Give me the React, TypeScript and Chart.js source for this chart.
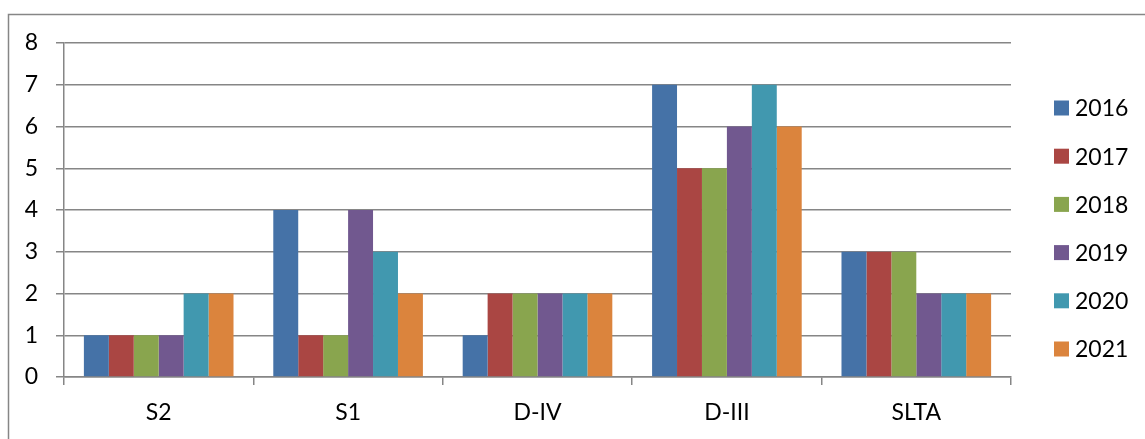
import React, { useEffect, useRef } from "react";
import { Chart, registerables } from "chart.js";

Chart.register(...registerables);

const categories = ["S2", "S1", "D-IV", "D-III", "SLTA"];
const seriesNames = ["2016", "2017", "2018", "2019", "2020", "2021"];
const s2016 = [1, 4, 1, 7, 3];
const s2017 = [1, 1, 2, 5, 3];
const s2018 = [1, 1, 2, 5, 3];
const s2019 = [1, 4, 2, 6, 2];
const s2020 = [2, 3, 2, 7, 2];
const s2021 = [2, 2, 2, 6, 2];
const seriesValues = [s2016, s2017, s2018, s2019, s2020, s2021];
const seriesColors = ["#4572A7", "#AA4643", "#89A54E", "#71588F", "#4198AF", "#DB843D"];
const yTicks = [0, 1, 2, 3, 4, 5, 6, 7, 8];

const FONT = "Lato, 'Open Sans', sans-serif";
const GRID = "#868686";

const framePlugin = {
  id: "frame",
  afterDraw(chart: any) {
    const ctx = chart.ctx;
    ctx.save();
    ctx.strokeStyle = GRID;
    ctx.lineWidth = 1.5;
    ctx.strokeRect(8.5, 14.5, 2000, 2000);
    ctx.restore();
  },
};

const legendPlugin = {
  id: "customLegend",
  afterDraw(chart: any) {
    const ctx = chart.ctx;
    ctx.save();
    ctx.font = `23px ${FONT}`;
    ctx.textBaseline = "middle";
    ctx.textAlign = "left";
    chart.data.datasets.forEach((ds: any, i: number) => {
      const cy = 108 + i * 48.2;
      ctx.fillStyle = ds.backgroundColor;
      ctx.fillRect(1054, cy - 7.5, 15, 15);
      ctx.fillStyle = "#000";
      ctx.fillText(ds.label, 1075, cy + 1);
    });
    ctx.restore();
  },
};

export default function App() {
  const ref = useRef<HTMLCanvasElement | null>(null);

  useEffect(() => {
    if (!ref.current) return;
    const chart = new Chart(ref.current, {
      type: "bar",
      data: {
        labels: categories,
        datasets: seriesNames.map((name, i) => ({
          label: name,
          data: seriesValues[i],
          backgroundColor: seriesColors[i],
          borderWidth: 0,
          categoryPercentage: 0.79,
          barPercentage: 1,
        })),
      },
      options: {
        responsive: false,
        animation: false,
        layout: { padding: { top: 43, right: 134, left: 0, bottom: 0 } },
        plugins: {
          legend: { display: false },
          tooltip: { enabled: false },
        },
        scales: {
          x: {
            grid: {
              display: true,
              drawOnChartArea: false,
              drawTicks: true,
              tickLength: 8,
              color: GRID,
              lineWidth: 1.5,
              offset: true,
            },
            border: { display: true, color: GRID, width: 1.5 },
            ticks: {
              color: "#000",
              font: { family: FONT, size: 23 },
              padding: 14,
              maxRotation: 0,
            },
            afterFit: (scale: any) => {
              scale.height = 62;
            },
          },
          y: {
            min: 0,
            max: 8,
            afterBuildTicks: (scale: any) => {
              scale.ticks = yTicks.map((v) => ({ value: v }));
            },
            grid: {
              color: GRID,
              lineWidth: 1.5,
              drawTicks: true,
              tickLength: 8,
            },
            border: { display: true, color: GRID, width: 1.5 },
            ticks: {
              color: "#000",
              font: { family: FONT, size: 23 },
              padding: 18,
            },
            afterFit: (scale: any) => {
              scale.width = 64;
            },
          },
        },
      },
      plugins: [framePlugin, legendPlugin],
    });
    return () => chart.destroy();
  }, []);

  return (
    <div style={{ position: "absolute", left: 0, top: 0, width: 1145, height: 439, background: "#fff" }}>
      <canvas ref={ref} width={1145} height={439} />
    </div>
  );
}
